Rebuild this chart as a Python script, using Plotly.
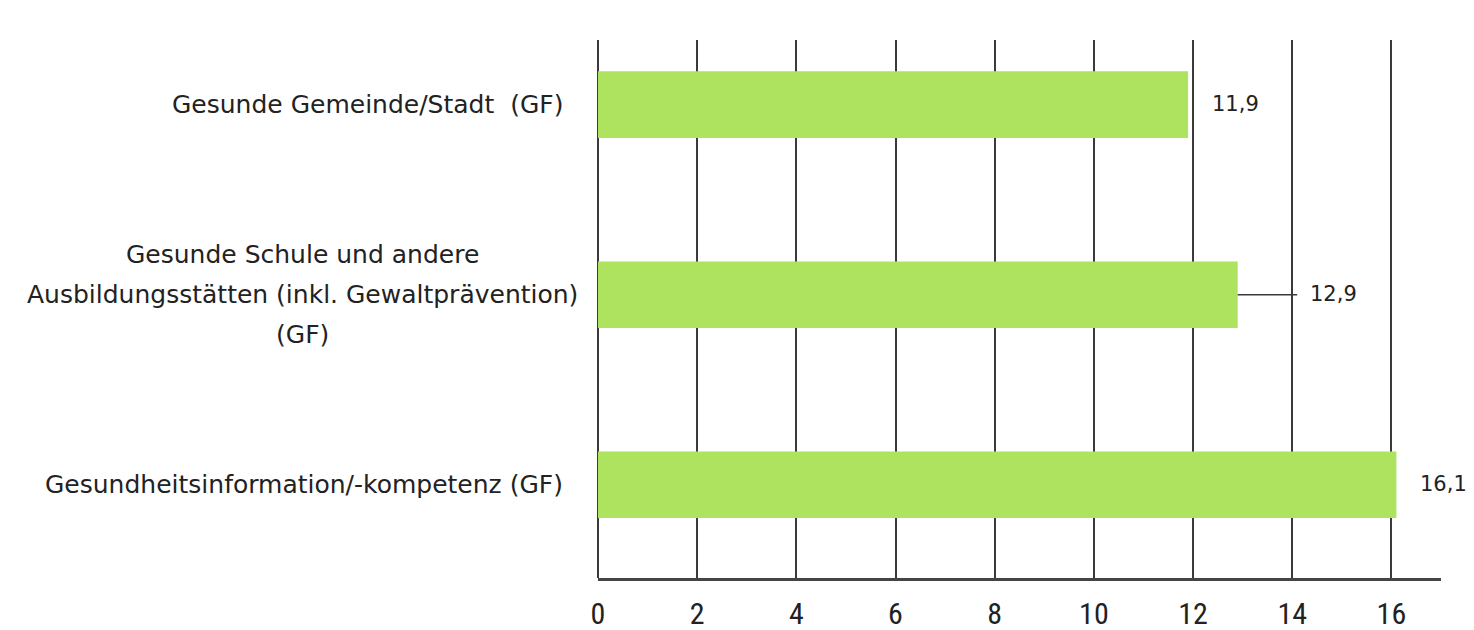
import plotly.graph_objects as go

categories = [
    "Gesunde Gemeinde/Stadt  (GF)",
    "Gesunde Schule und andere<br>Ausbildungsstätten (inkl. Gewaltprävention)<br>(GF)",
    "Gesundheitsinformation/-kompetenz (GF)",
]
values = [11.9, 12.9, 16.1]
value_labels = ["11,9", "12,9", "16,1"]
x_ticks = [0, 2, 4, 6, 8, 10, 12, 14, 16]

BAR = "#ade35f"
TXT = "#222222"
GRID = "#3a3a3a"

fig = go.Figure()
fig.add_trace(go.Bar(
    x=values, y=categories, orientation="h",
    marker=dict(color=BAR, line=dict(width=0)),
    width=0.35, hoverinfo="skip",
))

# category labels: one-line labels right-aligned, multi-line labels centered
LINE_H = 40
for cat in categories:
    lines = cat.split("<br>")
    n = len(lines)
    if n == 1:
        ax, anchor = -0.039, "right"
    else:
        ax, anchor = -0.351, "center"
    for i, ln in enumerate(lines):
        fig.add_annotation(
            x=ax, y=cat, xref="paper", yref="y", text=ln, showarrow=False,
            xanchor=anchor, yanchor="middle",
            yshift=((n - 1) / 2 - i) * LINE_H,
            font=dict(family="DejaVu Sans", size=25, color=TXT),
        )

# value labels
shifts = [22, 70, 22]
for cat, v, lab, s in zip(categories, values, value_labels, shifts):
    fig.add_annotation(
        x=v, y=cat, xref="x", yref="y", text=lab, showarrow=False,
        xanchor="left", yanchor="middle", xshift=s, yshift=1,
        font=dict(family="DejaVu Sans", size=21, color=TXT),
    )

# leader line for middle bar
fig.add_shape(type="line", xref="x", yref="y",
              x0=values[1], x1=values[1] + 1.2, y0=categories[1], y1=categories[1],
              line=dict(color=GRID, width=1.5))

fig.update_layout(
    width=1474, height=630,
    margin=dict(l=590, r=41, t=32, b=60),
    paper_bgcolor="white", plot_bgcolor="white",
    showlegend=False,
)
fig.update_xaxes(
    range=[0, 17], tickvals=x_ticks, ticktext=[str(t) for t in x_ticks],
    automargin=False,
    showgrid=True, gridcolor=GRID, gridwidth=1.5,
    zeroline=True, zerolinecolor=GRID, zerolinewidth=1.5,
    showline=True, linecolor="#444444", linewidth=3,
    ticks="", ticklabelstandoff=7,
    tickfont=dict(family="Liberation Sans Narrow, Roboto Condensed, Arial Narrow, sans-serif", size=30, color=TXT),
)
fig.update_yaxes(
    range=[2.49, -0.34], showticklabels=False, showgrid=False,
    zeroline=False, showline=False, automargin=False,
)

fig.write_html("out.html")
